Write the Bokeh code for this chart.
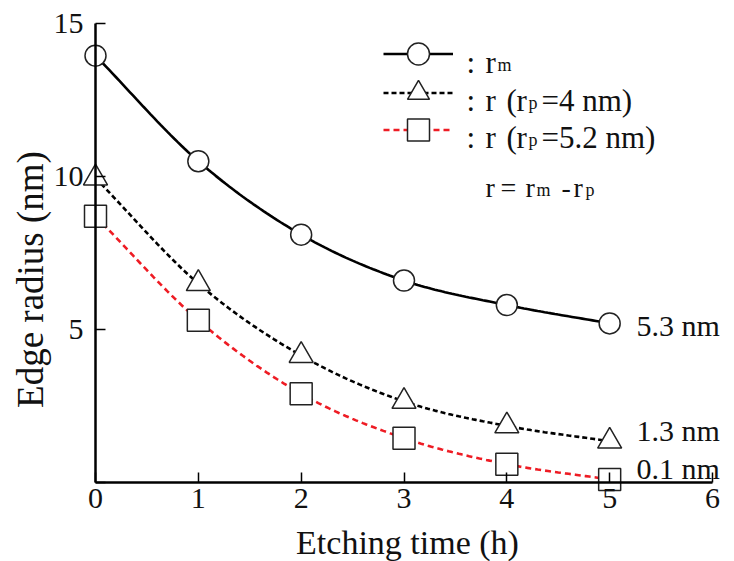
import numpy as np
from bokeh.plotting import figure
from bokeh.models import Range1d, FixedTicker, Label, Legend, LegendItem, LinearAxis
from bokeh.core.properties import value
from bokeh.embed import file_html
from bokeh.resources import INLINE

# ---------------- data ----------------
etching_time = [0, 1, 2, 3, 4, 5]
r_m = [13.95, 10.5, 8.1, 6.6, 5.8, 5.2]
r_rp4 = [9.95, 6.5, 4.15, 2.65, 1.85, 1.35]
r_rp52 = [8.7, 5.3, 2.9, 1.45, 0.6, 0.1]
end_labels = ["5.3 nm", "1.3 nm", "0.1 nm"]
x_ticks = [0, 1, 2, 3, 4, 5, 6]
y_ticks = [0, 5, 10, 15]

FONT = "Liberation Serif"

# ---------------- layout (page pixels) ----------------
W, H = 734, 561
AX_LEFT, AX_RIGHT = 95, 712      # pixel x of time 0 and 6
AX_BOTTOM, AX_TOP = 482, 23      # pixel y of radius 0 and 15
sx = (AX_RIGHT - AX_LEFT) / 6.0
sy = (AX_BOTTOM - AX_TOP) / 15.0
x_lo, x_hi = -AX_LEFT / sx, 6 + (W - AX_RIGHT) / sx
y_lo, y_hi = -(H - AX_BOTTOM) / sy, 15 + AX_TOP / sy


def smooth(xs, ys, n=30):
    """Catmull-Rom curve through the measured points (drawing only)."""
    x = np.asarray(xs, float)
    y = np.asarray(ys, float)
    px = np.concatenate([[2 * x[0] - x[1]], x, [2 * x[-1] - x[-2]]])
    py = np.concatenate([[2 * y[0] - y[1]], y, [2 * y[-1] - y[-2]]])
    ox, oy = [], []
    t = np.linspace(0, 1, n, endpoint=False)
    for i in range(1, len(px) - 2):
        for arr, out in ((px, ox), (py, oy)):
            p0, p1, p2, p3 = arr[i - 1], arr[i], arr[i + 1], arr[i + 2]
            out.extend(0.5 * ((2 * p1) + (-p0 + p2) * t
                              + (2 * p0 - 5 * p1 + 4 * p2 - p3) * t ** 2
                              + (-p0 + 3 * p1 - 3 * p2 + p3) * t ** 3))
    ox.append(x[-1])
    oy.append(y[-1])
    return ox, oy


p = figure(width=W, height=H, output_backend="svg", toolbar_location=None,
           x_range=Range1d(x_lo, x_hi), y_range=Range1d(y_lo, y_hi),
           x_axis_type=None, y_axis_type=None,
           min_border=0)
p.outline_line_color = None
p.grid.visible = False
p.background_fill_color = "white"
p.border_fill_color = "white"

xaxis = LinearAxis(fixed_location=0, bounds=(0, 6), ticker=FixedTicker(ticks=x_ticks))
yaxis = LinearAxis(fixed_location=0, bounds=(0, 15), ticker=FixedTicker(ticks=y_ticks),
                   major_label_overrides={0: ""})
for ax in (xaxis, yaxis):
    ax.axis_line_width = 2.5
    ax.axis_line_color = "black"
    ax.major_tick_in = 10
    ax.major_tick_out = 0
    ax.major_tick_line_width = 1.5
    ax.minor_tick_line_color = None
    ax.major_label_text_font = FONT
    ax.major_label_text_font_size = "30px"
    ax.major_label_text_color = "#111111"
xaxis.major_label_standoff = 6
yaxis.major_label_standoff = 12
p.add_layout(xaxis, "below")
p.add_layout(yaxis, "left")

# ---------------- series ----------------
RED = "#ee1c24"
series = [
    (r_m, "circle", "black", "solid", 2.6, 21),
    (r_rp4, "triangle", "black", "5 3", 2.6, 24),
    (r_rp52, "square", RED, "6 4", 2.6, 22),
]
legend_rows = [53, 92, 129]       # page y of each legend key's centre
for (ys, marker, col, dash, lw, size), row in zip(series, legend_rows):
    cx, cy = smooth(etching_time, ys)
    lr = p.line(cx, cy, line_color=col, line_width=lw, line_dash=dash)
    sr = p.scatter(etching_time, ys, marker=marker, size=size,
                   fill_color="white", line_color="#222222", line_width=1.5)
    # one single-key legend per row: 70 px wide key, 55 px tall box
    leg = Legend(items=[LegendItem(label=value(" "), renderers=[lr, sr])],
                 location=(383, H - (row + 27.5)),
                 glyph_width=70, glyph_height=55, spacing=0,
                 padding=0, margin=0, label_standoff=0,
                 label_text_font_size="8px",
                 background_fill_alpha=0, border_line_color=None)
    p.add_layout(leg, "center")


def txt(s, px, py, size="31px", align="left", baseline="alphabetic", angle=0.0):
    p.add_layout(Label(x=px, y=H - py, x_units="screen", y_units="screen",
                       text=s, text_font=FONT, text_font_size=size,
                       text_align=align, text_baseline=baseline,
                       text_color="#111111", angle=angle))


SUB = "18px"
# legend texts
for base in (62, 100, 137):
    txt(":", 466, base)
    txt("r", 485, base)
txt("m", 497, 64, SUB)
for base, rest in ((100, "=4 nm)"), (137, "=5.2 nm)")):
    txt("(", 506, base)
    txt("r", 516, base)
    txt("p", 528, base + 2, SUB)
    txt(rest, 541, base)
# relation
REL = "28px"
txt("r", 485, 187, REL)
txt("=", 500, 187, REL)
txt("r", 525, 187, REL)
txt("m", 536, 189, SUB)
txt("-", 561, 187, REL)
txt("r", 573, 187, REL)
txt("p", 585, 189, SUB)

# end value labels
for lab, yy in zip(end_labels, [325, 430, 468]):
    txt(lab, 636, yy, "30px", baseline="middle")

# axis titles
txt("Etching time (h)", 407, 542, "34px", align="center")
txt("Edge radius (nm)", 30, 279, "37px", align="center", angle=np.pi / 2)

open("out.html", "w").write(file_html(p, INLINE))
